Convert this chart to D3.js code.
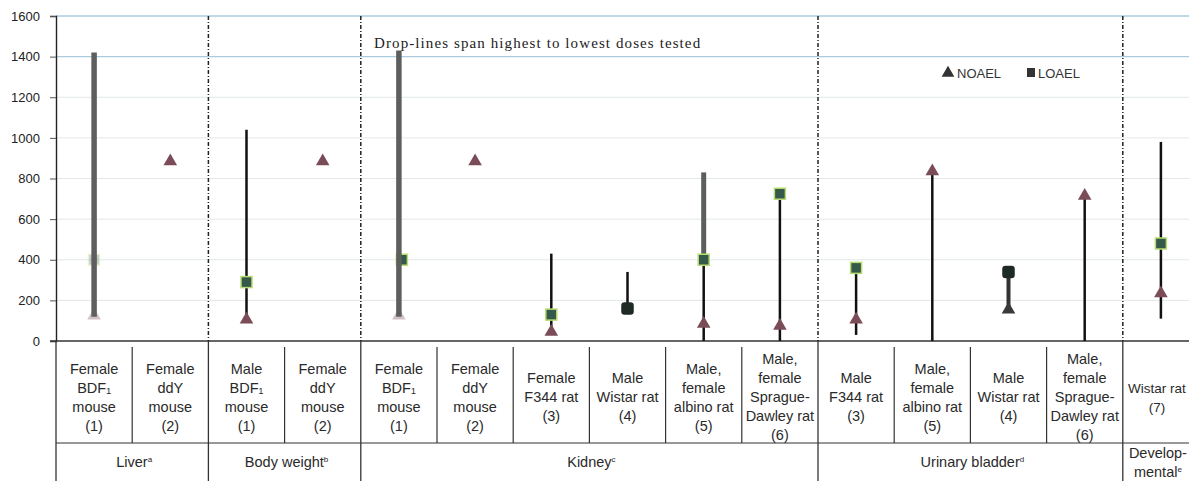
<!DOCTYPE html>
<html>
<head>
<meta charset="utf-8">
<script src="https://cdn.jsdelivr.net/npm/d3@7"></script>
<style>
  body { margin: 0; background: #fff; }
  svg { display: block; font-family: "Liberation Sans", Arial, sans-serif; }
</style>
</head>
<body>
<svg id="chart" width="1189" height="481"></svg>
<script>
// category labels, one line per entry
const categories = [
  ["Female", "BDF\u2081", "mouse", "(1)"],
  ["Female", "ddY", "mouse", "(2)"],
  ["Male", "BDF\u2081", "mouse", "(1)"],
  ["Female", "ddY", "mouse", "(2)"],
  ["Female", "BDF\u2081", "mouse", "(1)"],
  ["Female", "ddY", "mouse", "(2)"],
  ["Female", "F344 rat", "(3)"],
  ["Male", "Wistar rat", "(4)"],
  ["Male,", "female", "albino rat", "(5)"],
  ["Male,", "female", "Sprague-", "Dawley rat", "(6)"],
  ["Male", "F344 rat", "(3)"],
  ["Male,", "female", "albino rat", "(5)"],
  ["Male", "Wistar rat", "(4)"],
  ["Male,", "female", "Sprague-", "Dawley rat", "(6)"],
  ["Wistar rat", "(7)"]
];

const groupNames = [["Liver"], ["Body weight"], ["Kidney"], ["Urinary bladder"], ["Develop-", "mental"]];
const groupNotes = ["a", "b", "c", "d", "e"];
const groupSizes = [2, 2, 6, 4, 1];

// doses (mg/kg bw per day)
const highDose = [1420, null, 1040, null, 1430, null, 430, 340, 830, 725, 360, 830, 340, 710, 980];
const lowDose  = [120, null, 100, null, 120, null, 40, 160, 0, 0, 30, 0, 150, 0, 110];
const noael    = [120, 880, 100, 880, 120, 880, 40, null, 80, 70, 100, 830, 150, 710, 230];
const loael    = [400, null, 290, null, 400, null, 130, 160, 400, 725, 360, null, 340, null, 480];

const yTicks = [0, 200, 400, 600, 800, 1000, 1200, 1400, 1600];

const svg = d3.select("#chart");
const plotTop = 16, base = 341, left = 56;
const W = 1189, H = 481;

const x = d3.scaleBand().domain(d3.range(categories.length)).range([left, left + 76.2 * 15]);
const y = d3.scaleLinear().domain([0, 1600]).range([base, plotTop]);
const cx = i => x(i) + x.bandwidth() / 2;
const edge = i => i < categories.length ? x(i) : x.range()[1];

// gridlines
svg.append("g")
  .selectAll("line")
  .data(yTicks.filter(d => d > 0))
  .join("line")
  .attr("x1", left).attr("x2", W)
  .attr("y1", d => y(d)).attr("y2", d => y(d))
  .attr("stroke", d => d >= 1400 ? "#a9cbdc" : "#e1e7ea")
  .attr("stroke-width", d => d >= 1400 ? 1.3 : 1);

// y axis
const yAxis = svg.append("g")
  .attr("transform", `translate(${left},0)`)
  .call(d3.axisLeft(y).tickValues(yTicks).tickFormat(d3.format("d")).tickSize(6).tickPadding(10));
yAxis.select(".domain").attr("stroke", "#222").attr("stroke-width", 1.4);
yAxis.selectAll(".tick line").attr("stroke", "#555");
yAxis.selectAll(".tick text")
  .attr("font-size", 13)
  .attr("fill", "#222")
  .attr("font-family", "'Liberation Sans', Arial, sans-serif");

// x axis base line
svg.append("line")
  .attr("x1", 50).attr("x2", W)
  .attr("y1", base).attr("y2", base)
  .attr("stroke", "#333").attr("stroke-width", 1.5);

// group boundaries
let acc = 0;
const groupStarts = groupSizes.map(n => { const s = acc; acc += n; return s; });

svg.append("g")
  .selectAll("line")
  .data(groupStarts.slice(1))
  .join("line")
  .attr("x1", d => x(d)).attr("x2", d => x(d))
  .attr("y1", plotTop).attr("y2", base)
  .attr("stroke", "#222").attr("stroke-width", 1.5)
  .attr("stroke-dasharray", "4,2,1,2");

svg.append("g")
  .selectAll("line")
  .data(groupStarts)
  .join("line")
  .attr("x1", d => edge(d)).attr("x2", d => edge(d))
  .attr("y1", base).attr("y2", H)
  .attr("stroke", "#333").attr("stroke-width", 1.3);

// category dividers inside the label row
svg.append("g")
  .selectAll("line")
  .data(d3.range(1, categories.length).filter(i => !groupStarts.includes(i)))
  .join("line")
  .attr("x1", d => x(d)).attr("x2", d => x(d))
  .attr("y1", base + 6).attr("y2", 443)
  .attr("stroke", "#333").attr("stroke-width", 1.2);

svg.append("line")
  .attr("x1", left).attr("x2", W)
  .attr("y1", 443).attr("y2", 443)
  .attr("stroke", "#333").attr("stroke-width", 1.2);

// category labels
const lineH = 19;
const lastIdx = categories.length - 1;
svg.append("g")
  .selectAll("text")
  .data(categories)
  .join("text")
  .attr("text-anchor", "middle")
  .attr("font-size", (d, i) => i === lastIdx ? 13.5 : 14.5)
  .attr("fill", "#2a2a2a")
  .each(function (lines, i) {
    const y0 = 397 - (lines.length - 1) * lineH / 2 + 5;
    d3.select(this).selectAll("tspan")
      .data(lines)
      .join("tspan")
      .attr("x", i === lastIdx ? cx(i) - 4 : cx(i))
      .attr("y", (d, k) => y0 + k * lineH)
      .text(d => d);
  });

// group labels
svg.append("g")
  .selectAll("text")
  .data(groupNames)
  .join("text")
  .attr("text-anchor", "middle")
  .attr("font-size", 14.5)
  .attr("fill", "#2a2a2a")
  .each(function (lines, g) {
    const x0 = x(groupStarts[g]);
    const x1 = Math.min(edge(groupStarts[g] + groupSizes[g]), W);
    const mid = (x0 + x1) / 2;
    const y0 = 467 - (lines.length - 1) * 9.5;
    const t = d3.select(this);
    lines.forEach((ln, k) => {
      t.append("tspan").attr("x", mid + 2).attr("y", y0 + k * 19).text(ln);
      if (k === lines.length - 1) {
        t.append("tspan")
          .attr("font-size", 8)
          .attr("dy", -5)
          .text(groupNotes[g]);
      }
    });
  });

// drop-lines
const heavyFull = new Set([0, 4]);
const heavyUpper = new Set([8]);
const darkSet = new Set([7, 12]);
const dropG = svg.append("g");

categories.forEach((c, i) => {
  if (highDose[i] == null || heavyFull.has(i)) return;
  const split = loael[i] != null ? loael[i] : highDose[i];
  dropG.append("line")
    .attr("x1", cx(i)).attr("x2", cx(i))
    .attr("y1", y(highDose[i])).attr("y2", y(split))
    .attr("stroke", heavyUpper.has(i) ? "#5a5f5c" : "#111")
    .attr("stroke-width", heavyUpper.has(i) ? 5 : 2.5);
  dropG.append("line")
    .attr("x1", cx(i)).attr("x2", cx(i))
    .attr("y1", y(split)).attr("y2", y(lowDose[i]))
    .attr("stroke", darkSet.has(i) ? "#333" : "#111")
    .attr("stroke-width", darkSet.has(i) ? 4 : 2.5);
});

// markers
const tri = d3.symbol().type(d3.symbolTriangle).size(80);
const marks = svg.append("g");

noael.forEach((v, i) => {
  if (v == null) return;
  marks.append("path")
    .attr("d", tri)
    .attr("transform", `translate(${cx(i)},${y(v) - 1})`)
    .attr("fill", darkSet.has(i) ? "#3a3a3a" : "#7a4c58")
    .attr("opacity", heavyFull.has(i) ? 0.35 : 1);
});

loael.forEach((v, i) => {
  if (v == null) return;
  const s = 11;
  marks.append("rect")
    .attr("x", cx(i) - s / 2 + (i === 4 ? 3 : 0)).attr("y", y(v) - s / 2)
    .attr("width", s).attr("height", s)
    .attr("rx", darkSet.has(i) ? 2.5 : 0)
    .attr("fill", darkSet.has(i) ? "#1f2a24" : "#35594a")
    .attr("stroke", darkSet.has(i) ? "#1f2a24" : "#b9dc72")
    .attr("stroke-width", 1.5)
    .attr("opacity", i === 0 ? 0.3 : 1);
});

// heavy bars drawn on top so their markers sit behind
categories.forEach((c, i) => {
  if (!heavyFull.has(i)) return;
  marks.append("line")
    .attr("x1", cx(i)).attr("x2", cx(i))
    .attr("y1", y(highDose[i])).attr("y2", y(lowDose[i]))
    .attr("stroke", "#5e5e5e").attr("stroke-width", 5.5);
});

// note
svg.append("text")
  .attr("x", 374).attr("y", 48)
  .attr("font-family", "'Liberation Serif', 'Times New Roman', serif")
  .attr("font-size", 15)
  .attr("letter-spacing", 1.1)
  .attr("fill", "#222")
  .text("Drop-lines span highest to lowest doses tested");

// legend
const leg = svg.append("g").attr("font-size", 13).attr("fill", "#333");
leg.append("path")
  .attr("d", d3.symbol().type(d3.symbolTriangle).size(70))
  .attr("transform", "translate(948,73)")
  .attr("fill", "#333");
leg.append("text").attr("x", 957).attr("y", 78).text("NOAEL");
leg.append("rect")
  .attr("x", 1027).attr("y", 68).attr("width", 8).attr("height", 9)
  .attr("fill", "#333");
leg.append("text").attr("x", 1038).attr("y", 78).text("LOAEL");
</script>
</body>
</html>
